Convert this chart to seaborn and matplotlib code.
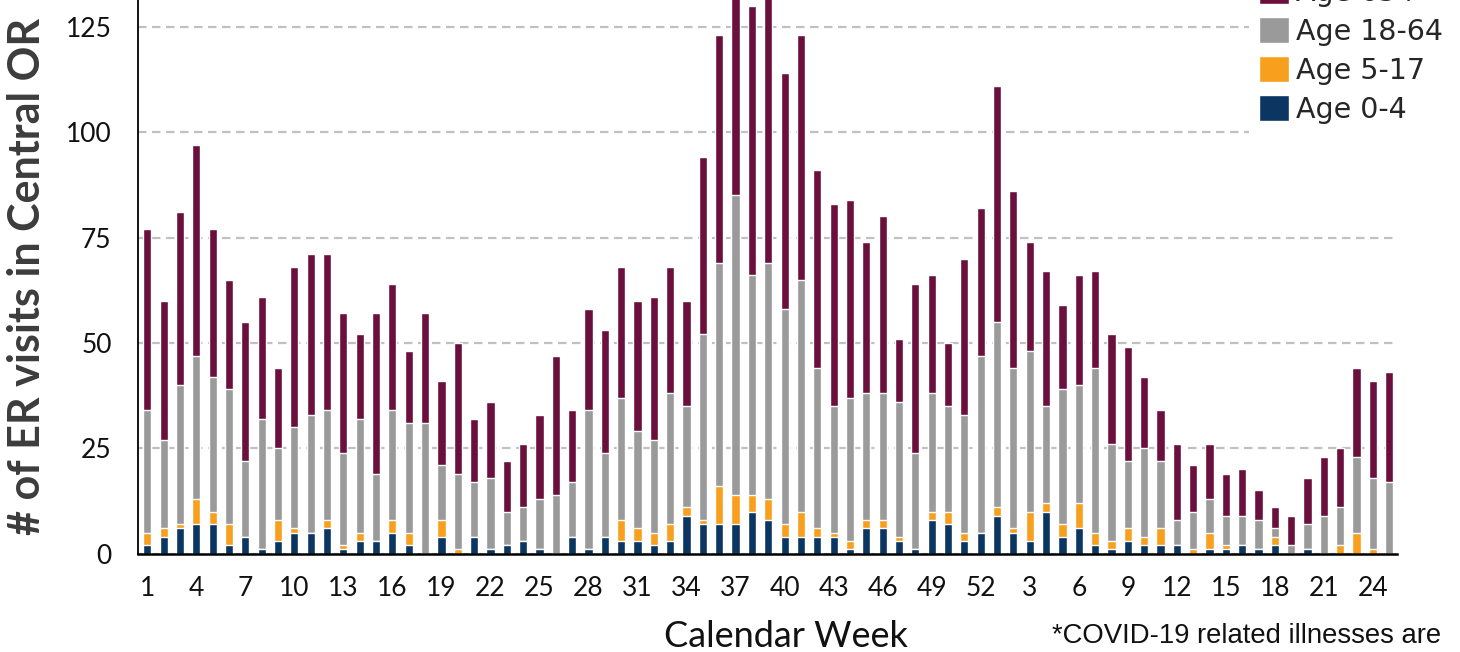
import numpy as np
import pandas as pd
import matplotlib
matplotlib.use("Agg")
import matplotlib.pyplot as plt
import seaborn as sns

# Semanas: 2020 (1-52) e 2021 (1-25)
weeks = list(range(1, 53)) + list(range(1, 26))

# Visitas semanais por faixa etaria
age_0_4 = [2, 4, 6, 7, 7, 2, 4, 1, 3, 5, 5, 6, 1, 3, 3, 5, 2, 0, 4, 0,
           4, 1, 2, 3, 1, 0, 4, 1, 4, 3, 3, 2, 3, 9, 7, 7, 7, 10, 8, 4,
           4, 4, 4, 1, 6, 6, 3, 1, 8, 7, 3, 5,
           9, 5, 3, 10, 4, 6, 2, 1, 3, 2, 2, 2, 0, 1, 1, 2, 1, 2, 0, 1,
           0, 0, 0, 0, 0]
age_5_17 = [3, 2, 1, 6, 3, 5, 0, 0, 5, 1, 0, 2, 1, 2, 0, 3, 3, 0, 4, 1,
            0, 0, 0, 0, 0, 0, 0, 0, 0, 5, 3, 3, 4, 2, 1, 9, 7, 4, 5, 3,
            6, 2, 1, 2, 2, 2, 1, 0, 2, 3, 2, 0,
            2, 1, 7, 2, 3, 6, 3, 2, 3, 2, 4, 0, 1, 4, 1, 0, 0, 2, 0, 0,
            0, 2, 5, 1, 0]
age_18_64 = [29, 21, 33, 34, 32, 32, 18, 31, 17, 24, 28, 26, 22, 27, 16, 26, 26, 31, 13, 18,
             13, 17, 8, 8, 12, 14, 13, 33, 20, 29, 23, 22, 31, 24, 44, 53, 71, 52, 56, 51,
             55, 38, 30, 34, 30, 30, 32, 23, 28, 25, 28, 42,
             44, 38, 38, 23, 32, 28, 39, 23, 16, 21, 16, 6, 9, 8, 7, 7, 7, 2, 2, 6,
             9, 9, 18, 17, 17]
age_65_plus = [43, 33, 41, 50, 35, 26, 33, 29, 19, 38, 38, 37, 33, 20, 38, 30, 17, 26, 20, 31,
               15, 18, 12, 15, 20, 33, 17, 24, 29, 31, 31, 34, 30, 25, 42, 54, 52, 64, 70, 56,
               58, 47, 48, 47, 36, 42, 15, 40, 28, 15, 37, 35,
               56, 42, 26, 32, 20, 26, 23, 26, 27, 17, 12, 18, 11, 13, 10, 11, 7, 5, 7, 11,
               14, 14, 21, 23, 26]

groups = ["Age 65+", "Age 18-64", "Age 5-17", "Age 0-4"]
colors = ["#6b0f3c", "#9a9a9a", "#f8a01e", "#0b3661"]

# Barras empilhadas: desenha os acumulados do maior para o menor
pos = np.arange(len(weeks))
c04 = np.array(age_0_4)
c517 = c04 + np.array(age_5_17)
c1864 = c517 + np.array(age_18_64)
ctot = c1864 + np.array(age_65_plus)
layers = [ctot, c1864, c517, c04]

sns.set_style("white")
plt.rcParams["font.family"] = ["Lato", "DejaVu Sans"]

fig = plt.figure(figsize=(14.6, 6.52), dpi=100)
ax = fig.add_axes([0.0945, 0.1508, 0.8623, 0.9052])

for name, col, vals in zip(groups, colors, layers):
    df = pd.DataFrame({"pos": pos, "visits": vals})
    sns.barplot(data=df, x="pos", y="visits", color=col, width=0.5,
                errorbar=None, saturation=1, label=name, ax=ax, zorder=2)

ax.set_xlim(-0.57, 76.47)
ax.set_ylim(0, 140)
ax.set_yticks([0, 25, 50, 75, 100, 125])
ax.set_xticks(pos[::3])
ax.set_xticklabels(weeks[::3])
ax.tick_params(axis="y", length=0, pad=19, labelsize=19, labelcolor="#111111")
ax.tick_params(axis="x", length=0, pad=16, labelsize=19, labelcolor="#111111")

ax.set_axisbelow(True)
ax.yaxis.grid(True, color="#c0c0c0", linewidth=1.6, linestyle=(0, (3.8, 2.5)))
ax.xaxis.grid(False)
for s in ["top", "right"]:
    ax.spines[s].set_visible(False)
ax.spines["left"].set_color("black")
ax.spines["left"].set_linewidth(1.3)
ax.spines["bottom"].set_color("black")
ax.spines["bottom"].set_linewidth(1.8)
ax.spines["bottom"].set_zorder(3)

ax.set_ylabel("# of ER visits in Central OR", fontsize=31, fontweight="bold",
              color="#3c3c3c", va="center")
ax.yaxis.set_label_coords(-0.088, 0.47)
ax.set_xlabel("Calendar Week", fontsize=26, color="#111111")
ax.xaxis.set_label_coords(0.515, -0.112)

fig.text(1052 / 1460, 9 / 652, "*COVID-19 related illnesses are",
         family=["Liberation Sans", "DejaVu Sans"], fontsize=19.8,
         color="#111111", va="baseline", ha="left")

leg = ax.legend(loc="lower left", bbox_to_anchor=(1249 / 1460, (652 - 133.5) / 652),
                bbox_transform=fig.transFigure, borderaxespad=0, frameon=True,
                framealpha=1, facecolor="white", edgecolor="none", fancybox=False,
                borderpad=0.35, labelspacing=0.35, handlelength=1.05,
                handleheight=1.05, handletextpad=0.25,
                prop={"family": ["DejaVu Sans"], "size": 20.5})
leg.set_zorder(5)

plt.savefig("out.png", dpi=100)
